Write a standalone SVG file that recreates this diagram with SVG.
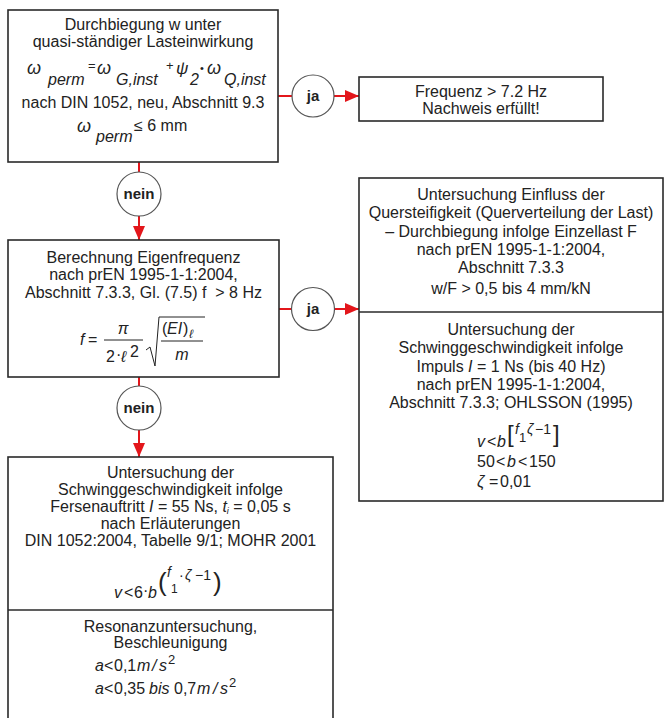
<svg xmlns="http://www.w3.org/2000/svg" width="665" height="718" viewBox="0 0 665 718">
<defs>
<style>
.box{fill:#fff;stroke:#2a2a2a;stroke-width:1.6}
.div{stroke:#2a2a2a;stroke-width:1.6}
.circ{fill:#fff;stroke:#555;stroke-width:1.2}
.t{font-family:"Liberation Sans",Arial,sans-serif;font-size:16px;fill:#222;text-anchor:middle}
.lbl{font-family:"Liberation Sans",Arial,sans-serif;font-size:15px;font-weight:bold;fill:#222;text-anchor:middle}
.m{font-family:"Liberation Sans",Arial,sans-serif;font-size:16px;fill:#222;font-style:italic}
.u{font-style:normal}
.con{stroke:#e3161b;stroke-width:2;fill:none}
.mline{stroke:#222;stroke-width:1;fill:none}
</style>
<marker id="ah" markerUnits="userSpaceOnUse" markerWidth="14" markerHeight="12" refX="14" refY="6" orient="auto">
<path d="M0,0 L14,6 L0,12 Z" fill="#e3161b"/>
</marker>
</defs>
<rect width="665" height="718" fill="#fff"/>

<g id="connectors">
<line class="con" x1="278" y1="96" x2="292" y2="96"/>
<line class="con" x1="334" y1="96" x2="359" y2="96" marker-end="url(#ah)"/>
<line class="con" x1="139" y1="162" x2="139" y2="172"/>
<line class="con" x1="139" y1="216" x2="139" y2="240" marker-end="url(#ah)"/>
<line class="con" x1="279" y1="309" x2="291" y2="309"/>
<line class="con" x1="335" y1="309" x2="359" y2="309" marker-end="url(#ah)"/>
<line class="con" x1="139" y1="377" x2="139" y2="386"/>
<line class="con" x1="139" y1="430" x2="139" y2="457" marker-end="url(#ah)"/>
</g>

<g id="n1">
<rect class="box" x="8" y="10" width="270" height="152"/>
<text class="t" x="143" y="30">Durchbiegung w unter</text>
<text class="t" x="143" y="47">quasi-ständiger Lasteinwirkung</text>
<text class="m"><tspan x="27" y="74" font-size="18">ω</tspan><tspan x="48" y="85">perm</tspan><tspan class="u" x="88" y="70" font-size="13">=</tspan><tspan x="97" y="74" font-size="18">ω</tspan><tspan x="116" y="85">G,inst</tspan><tspan class="u" x="166" y="70" font-size="13">+</tspan><tspan x="176" y="74" font-size="17">ψ</tspan><tspan x="190" y="85">2</tspan><tspan class="u" x="200" y="72" font-size="11">•</tspan><tspan x="207" y="74" font-size="18">ω</tspan><tspan x="224" y="85">Q,inst</tspan></text>
<text class="t" x="143" y="108">nach DIN 1052, neu, Abschnitt 9.3</text>
<text class="m"><tspan x="77" y="132" font-size="18">ω</tspan><tspan x="96" y="142">perm</tspan><tspan class="u" x="134" y="131">≤ 6 mm</tspan></text>
</g>

<g id="ja1">
<circle class="circ" cx="313" cy="96" r="21"/>
<text class="lbl" x="313" y="101">ja</text>
</g>

<g id="n2">
<rect class="box" x="359" y="77" width="244" height="44"/>
<text class="t" x="481" y="97">Frequenz &gt; 7.2 Hz</text>
<text class="t" x="481" y="114">Nachweis erfüllt!</text>
</g>

<g id="nein1">
<circle class="circ" cx="139" cy="194" r="22"/>
<text class="lbl" x="139" y="199">nein</text>
</g>

<g id="n3">
<rect class="box" x="8" y="240" width="271" height="137"/>
<text class="t" x="143.5" y="263">Berechnung Eigenfrequenz</text>
<text class="t" x="143.5" y="280">nach prEN 1995-1-1:2004,</text>
<text class="t" x="143.5" y="298" xml:space="preserve">Abschnitt 7.3.3, Gl. (7.5) f  &gt; 8 Hz</text>
<text class="m"><tspan x="80" y="345">f</tspan><tspan class="u" x="88" y="345">=</tspan></text>
<text class="m" x="123" y="334" text-anchor="middle">π</text>
<line class="mline" x1="104" y1="340" x2="143" y2="340"/>
<text class="m"><tspan class="u" x="106" y="362">2</tspan><tspan class="u" x="116" y="360">·</tspan><tspan x="121" y="362">ℓ</tspan><tspan class="u" x="130" y="357">2</tspan></text>
<path class="mline" d="M146,350 L150,347 L155,366 L159,317 L205,317"/>
<text class="m"><tspan class="u" x="162" y="334">(</tspan><tspan x="167" y="334">EI</tspan><tspan class="u" x="183" y="334">)</tspan><tspan x="189" y="338" font-size="12">ℓ</tspan></text>
<line class="mline" x1="161" y1="341" x2="203" y2="341"/>
<text class="m" x="182" y="360" text-anchor="middle">m</text>
</g>

<g id="ja2">
<circle class="circ" cx="313" cy="309" r="21.5"/>
<text class="lbl" x="313" y="314">ja</text>
</g>

<g id="n4">
<rect class="box" x="359" y="178" width="304" height="323"/>
<line class="div" x1="359" y1="312" x2="663" y2="312"/>
<text class="t" x="511" y="200">Untersuchung Einfluss der</text>
<text class="t" x="511" y="218">Quersteifigkeit (Querverteilung der Last)</text>
<text class="t" x="511" y="237">– Durchbiegung infolge Einzellast F</text>
<text class="t" x="511" y="255">nach prEN 1995-1-1:2004,</text>
<text class="t" x="511" y="273">Abschnitt 7.3.3</text>
<text class="t" x="511" y="294">w/F &gt; 0,5 bis 4 mm/kN</text>
<text class="t" x="511" y="335">Untersuchung der</text>
<text class="t" x="511" y="353">Schwinggeschwindigkeit infolge</text>
<text class="t" x="511" y="372">Impuls <tspan font-style="italic">I</tspan> = 1 Ns (bis 40 Hz)</text>
<text class="t" x="511" y="390">nach prEN 1995-1-1:2004,</text>
<text class="t" x="511" y="408">Abschnitt 7.3.3; OHLSSON (1995)</text>
<text class="m"><tspan x="477" y="447">v</tspan><tspan class="u" x="487" y="447">&lt;</tspan><tspan x="497" y="447">b</tspan><tspan class="u" x="507" y="442" font-size="24">[</tspan><tspan x="515" y="434" font-size="14">f</tspan><tspan class="u" x="519" y="442" font-size="13">1</tspan><tspan x="527" y="434" font-size="14">ζ</tspan><tspan class="u" x="535" y="434" font-size="14">−1</tspan><tspan class="u" x="553" y="442" font-size="24">]</tspan></text>
<text class="m"><tspan class="u" x="477" y="467">50</tspan><tspan class="u" x="496" y="467">&lt;</tspan><tspan x="507" y="467">b</tspan><tspan class="u" x="518" y="467">&lt;</tspan><tspan class="u" x="529" y="467">150</tspan></text>
<text class="m"><tspan x="477" y="487">ζ</tspan><tspan class="u" x="489" y="487">=</tspan><tspan class="u" x="500" y="487">0,01</tspan></text>
</g>

<g id="nein2">
<circle class="circ" cx="139" cy="408" r="22"/>
<text class="lbl" x="139" y="413">nein</text>
</g>

<g id="n5">
<rect class="box" x="8" y="457" width="325" height="270"/>
<line class="div" x1="8" y1="610" x2="333" y2="610"/>
<text class="t" x="170.5" y="478">Untersuchung der</text>
<text class="t" x="170.5" y="495">Schwinggeschwindigkeit infolge</text>
<text class="t" x="170.5" y="512">Fersenauftritt <tspan font-style="italic">I</tspan> = 55 Ns, <tspan font-style="italic">t</tspan><tspan font-size="9" dy="2" font-style="italic">i</tspan><tspan dy="-2"> = 0,05 s</tspan></text>
<text class="t" x="170.5" y="529">nach Erläuterungen</text>
<text class="t" x="170.5" y="546">DIN 1052:2004, Tabelle 9/1; MOHR 2001</text>
<text class="m"><tspan x="114" y="598">v</tspan><tspan class="u" x="124" y="598">&lt;</tspan><tspan class="u" x="134" y="598">6</tspan><tspan class="u" x="143" y="596">·</tspan><tspan x="148" y="598">b</tspan><tspan class="u" x="158" y="591" font-size="26">(</tspan><tspan x="167" y="577" font-size="14">f</tspan><tspan class="u" x="171" y="593" font-size="12">1</tspan><tspan class="u" x="179" y="580" font-size="14">·</tspan><tspan x="185" y="580" font-size="14">ζ</tspan><tspan class="u" x="195" y="580" font-size="14">−1</tspan><tspan class="u" x="213" y="591" font-size="26">)</tspan></text>
<text class="t" x="170.5" y="632">Resonanzuntersuchung,</text>
<text class="t" x="170.5" y="648">Beschleunigung</text>
<text class="m"><tspan x="95" y="671">a</tspan><tspan class="u" x="104" y="671">&lt;</tspan><tspan class="u" x="114" y="671">0,1</tspan><tspan x="137" y="671">m</tspan><tspan x="152" y="671">/</tspan><tspan x="159" y="671">s</tspan><tspan class="u" x="168" y="664" font-size="13">2</tspan></text>
<text class="m"><tspan x="95" y="694">a</tspan><tspan class="u" x="104" y="694">&lt;</tspan><tspan class="u" x="114" y="694">0,35</tspan><tspan x="149" y="694">bis</tspan><tspan class="u" x="174" y="694">0,7</tspan><tspan x="197" y="694">m</tspan><tspan x="213" y="694">/</tspan><tspan x="220" y="694">s</tspan><tspan class="u" x="229" y="687" font-size="13">2</tspan></text>
</g>
</svg>
